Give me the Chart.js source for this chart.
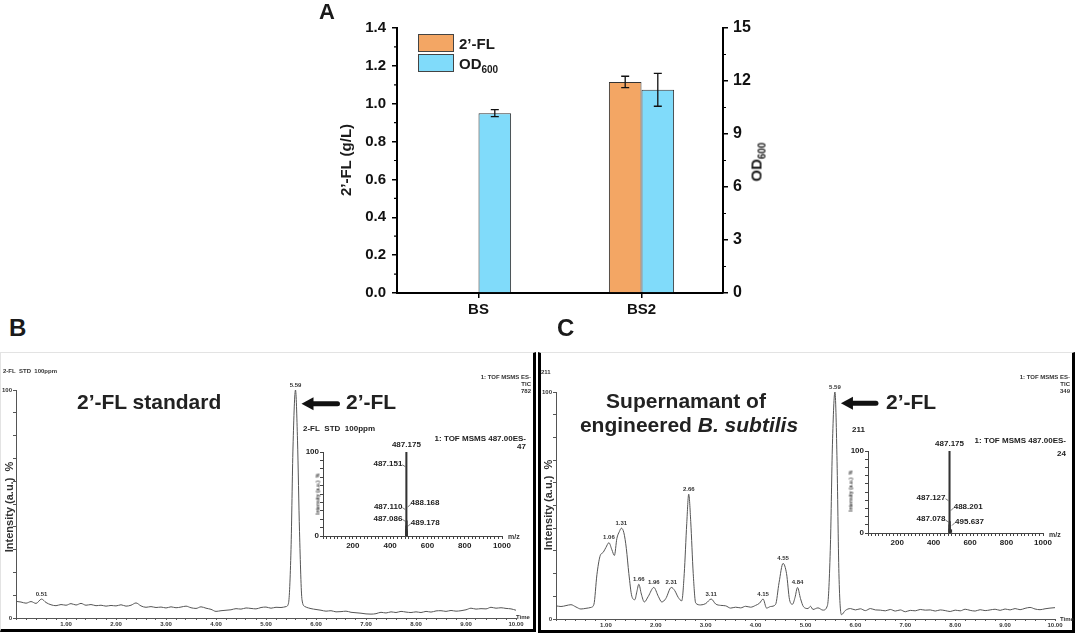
<!DOCTYPE html>
<html>
<head>
<meta charset="utf-8">
<script src="https://cdn.jsdelivr.net/npm/chart.js@4.4.1/dist/chart.umd.min.js"></script>
<style>
  body { margin: 0; width: 1080px; height: 640px; position: relative; overflow: hidden; background: #fff;
         font-family: 'Liberation Sans', Arial, sans-serif; color: #1a1a1a; }
  canvas { position: absolute; }
  .t { position: absolute; white-space: nowrap; line-height: 1; }
  .big { font-weight: bold; font-size: 21px; color: #222; }
  .tiny { font-size: 6px; font-weight: bold; color: #333; }
  .small { font-size: 8px; font-weight: bold; color: #222; }
  .rot { transform: translate(-50%, -50%) rotate(-90deg); }
  .frame { position: absolute; box-sizing: border-box; }
</style>
</head>
<body>

<div class="frame" style="left:0;top:352px;width:536px;height:280px;border-left:1px solid #e3e3e3;border-top:1px solid #e3e3e3;border-right:3px solid #000;border-bottom:3px solid #000;"></div>
<div class="frame" style="left:538px;top:352px;width:537px;height:281px;border-left:3px solid #000;border-top:1px solid #e3e3e3;border-right:3px solid #000;border-bottom:3px solid #000;"></div>

<canvas id="chartA" width="480" height="330" style="left:300px;top:0;"></canvas>
<canvas id="chartB" width="532" height="276" style="left:1px;top:353px;"></canvas>
<canvas id="chartC" width="530" height="276" style="left:541px;top:353px;"></canvas>
<canvas id="insetB" width="240" height="135" style="left:290px;top:420px;"></canvas>
<canvas id="insetC" width="235" height="135" style="left:835px;top:420px;"></canvas>

<!-- panel letters -->
<div class="t" style="left:319px;top:1px;font-size:22px;font-weight:bold;">A</div>
<div class="t" style="left:9px;top:316px;font-size:24px;font-weight:bold;">B</div>
<div class="t" style="left:557px;top:316px;font-size:24px;font-weight:bold;">C</div>

<!-- panel A titles and legend -->
<div class="t rot" style="left:345px;top:160px;font-size:15px;font-weight:bold;">2’-FL (g/L)</div>
<div class="t rot" style="left:758px;top:162px;font-size:15px;font-weight:bold;">OD<sub style="font-size:10px;">600</sub></div>
<div id="legendA"></div>

<!-- panel B texts -->
<div class="t tiny" style="left:3px;top:368px;">2-FL&nbsp; STD&nbsp; 100ppm</div>
<div class="t tiny" style="right:549px;top:374px;text-align:right;line-height:7px;">1: TOF MSMS ES-<br>TIC<br>782</div>
<div class="t rot" style="left:9px;top:507px;font-size:11px;font-weight:bold;color:#333;">Intensity (a.u.)&nbsp;&nbsp;%</div>
<div class="t big" style="left:77px;top:391px;">2’-FL standard</div>
<div class="t big" style="left:346px;top:391px;">2’-FL</div>
<div class="t tiny" style="left:516px;top:614px;">Time</div>
<div class="t small" style="left:303px;top:425px;">2-FL&nbsp; STD&nbsp; 100ppm</div>
<div class="t small" style="right:554px;top:435px;text-align:right;line-height:8px;">1: TOF MSMS 487.00ES-<br>47</div>
<div class="t rot" style="left:318px;top:494px;font-size:5px;font-weight:bold;color:#333;">Intensity (a.u.)&nbsp; %</div>
<div class="t tiny" style="left:508px;top:533px;font-size:7px;">m/z</div>

<!-- panel C texts -->
<div class="t tiny" style="left:541px;top:369px;">211</div>
<div class="t tiny" style="right:10px;top:374px;text-align:right;line-height:7px;">1: TOF MSMS ES-<br>TIC<br>349</div>
<div class="t rot" style="left:548px;top:505px;font-size:11px;font-weight:bold;color:#333;">Intensity (a.u.)&nbsp;&nbsp;%</div>
<div class="t big" style="left:686px;top:390px;transform:translateX(-50%);">Supernamant of</div>
<div class="t big" style="left:689px;top:414px;transform:translateX(-50%);">engineered <i>B. subtilis</i></div>
<div class="t big" style="left:886px;top:391px;">2’-FL</div>
<div class="t tiny" style="left:1060px;top:616px;">Time</div>
<div class="t small" style="left:852px;top:426px;">211</div>
<div class="t small" style="right:14px;top:434px;text-align:right;line-height:13px;">1: TOF MSMS 487.00ES-<br>24</div>
<div class="t rot" style="left:851px;top:491px;font-size:5px;font-weight:bold;color:#333;">Intensity (a.u.)&nbsp; %</div>
<div class="t tiny" style="left:1049px;top:531px;font-size:7px;">m/z</div>

<script>
// ---- panel A data ----
const categoriesA = ['BS', 'BS2'];
const flValues = [0, 1.115];
const flErrors = [0, 0.03];
const odValues = [10.18, 11.5];
const odErrors = [0.2, 0.93];

// ---- panel B chromatogram (time, min / relative intensity, %) ----
const timesB = [0.00,0.10,0.20,0.30,0.40,0.51,0.60,0.70,0.80,0.90,1.00,1.10,1.20,1.30,1.40,1.50,1.60,1.70,1.80,1.90,
  2.00,2.10,2.20,2.30,2.40,2.50,2.60,2.70,2.80,2.90,3.00,3.10,3.20,3.30,3.40,3.50,3.60,3.70,3.80,3.90,
  4.00,4.10,4.20,4.30,4.40,4.50,4.60,4.70,4.80,4.90,5.00,5.10,5.20,5.30,5.40,5.45,5.50,5.54,5.59,5.63,
  5.67,5.72,5.78,5.85,5.95,6.10,6.20,6.30,6.40,6.50,6.60,6.70,6.80,6.90,7.00,7.10,7.20,7.30,7.40,7.50,
  7.60,7.70,7.80,7.90,8.00,8.10,8.20,8.30,8.40,8.50,8.60,8.70,8.80,8.90,9.00,9.10,9.20,9.30,9.40,9.50,
  9.60,9.70,9.80,9.90,10.00];
const intensityB = [7.3,7.0,6.5,7.2,6.4,8.3,6.8,5.8,5.4,5.9,5.6,6.3,5.7,6.4,5.6,5.9,5.4,5.6,5.2,5.5,
  5.3,5.8,5.2,5.6,6.6,5.3,4.7,5.0,4.6,4.8,4.4,4.9,4.5,4.8,5.2,4.5,4.2,4.9,4.3,3.8,
  2.9,3.2,3.4,3.6,4.1,3.9,4.4,4.2,4.0,4.6,4.8,4.3,4.7,4.6,5.0,6.5,30,75,100,78,
  38,8,5.0,4.4,3.9,3.4,3.0,3.2,2.7,2.8,3.0,2.5,2.3,2.1,1.8,1.7,1.9,2.5,2.2,2.7,
  2.4,2.9,2.6,2.4,2.7,2.4,2.9,2.6,3.1,3.2,2.9,3.3,3.0,3.2,3.6,4.3,3.9,4.1,4.0,4.7,
  4.3,4.5,4.2,4.0,3.4];
const peaksB = [0.51, 5.59];

// ---- panel C chromatogram ----
const timesC = [0.00,0.10,0.20,0.30,0.40,0.50,0.60,0.70,0.76,0.82,0.88,0.95,1.00,1.06,1.12,1.17,1.22,1.27,1.31,1.36,
  1.41,1.46,1.52,1.58,1.62,1.66,1.71,1.77,1.85,1.96,2.05,2.12,2.20,2.31,2.38,2.45,2.52,2.57,2.62,2.66,
  2.70,2.75,2.80,2.90,3.00,3.11,3.20,3.30,3.40,3.50,3.60,3.70,3.80,3.90,4.00,4.08,4.15,4.22,4.30,4.40,
  4.47,4.55,4.62,4.68,4.74,4.79,4.84,4.90,4.96,5.05,5.10,5.15,5.25,5.35,5.44,5.50,5.54,5.59,5.63,5.67,
  5.72,5.80,5.90,6.00,6.10,6.20,6.30,6.40,6.50,6.60,6.70,6.80,6.90,7.00,7.10,7.20,7.30,7.40,7.50,7.60,
  7.70,7.80,7.90,8.00,8.10,8.20,8.30,8.40,8.50,8.60,8.70,8.80,8.90,9.00,9.10,9.20,9.30,9.40,9.50,9.60,
  9.70,9.80,9.90,10.00];
const intensityC = [5.8,5.5,5.9,6.3,5.3,4.4,4.7,5.1,6.5,19.5,27.5,29.5,31.5,33.6,30.5,28.0,35.5,38.5,40.0,38.0,
  31.0,20.0,10.0,8.5,12.0,15.3,11.0,7.5,10.0,13.9,10.0,7.5,9.0,13.9,12.5,9.5,8.0,20.0,42.0,55.0,
  43.0,20.0,7.0,6.2,6.8,8.8,6.6,6.0,5.8,4.8,5.2,4.9,5.6,5.2,6.0,7.0,8.8,4.8,5.5,6.4,
  16.0,24.5,20.0,8.5,6.5,9.5,13.9,9.0,5.4,4.6,5.6,4.2,4.9,3.9,6.0,33.0,77.0,100,72.0,20.0,
  1.9,3.8,4.6,4.0,4.5,3.7,4.6,4.0,3.9,3.6,4.2,3.5,4.0,3.2,3.8,3.6,4.2,3.9,4.0,3.5,
  4.0,3.7,3.3,3.9,3.6,4.3,3.8,3.5,4.1,3.7,4.0,4.3,3.8,4.4,4.0,4.6,4.1,4.7,5.1,4.4,
  4.1,4.5,4.8,5.0];
const peaksC = [1.06, 1.31, 1.66, 1.96, 2.31, 2.66, 3.11, 4.15, 4.55, 4.84, 5.59];

// ---- MS/MS insets (m/z, relative intensity %) ----
const mzB = [487.086, 487.110, 487.151, 487.175, 488.168, 489.178];
const relB = [5, 8, 12, 100, 18, 6];
const mzC = [487.078, 487.127, 487.175, 488.201, 495.637];
const relC = [5, 10, 100, 14, 4];

const FONT = "'Liberation Sans', Arial, sans-serif";
Chart.defaults.font.family = FONT;
Chart.defaults.animation = false;

// error bars drawn from the dataset's own y scale
const errorBars = {
  id: 'errorBars',
  afterDatasetsDraw(chart) {
    const ctx = chart.ctx;
    chart.data.datasets.forEach((ds, di) => {
      const meta = chart.getDatasetMeta(di);
      const scale = chart.scales[ds.yAxisID];
      meta.data.forEach((bar, i) => {
        const e = ds.errors[i];
        if (!e) return;
        const v = ds.data[i];
        const top = scale.getPixelForValue(v + e);
        const bot = scale.getPixelForValue(v - e);
        ctx.save();
        ctx.strokeStyle = '#111';
        ctx.lineWidth = 1.3;
        ctx.beginPath();
        ctx.moveTo(bar.x, top); ctx.lineTo(bar.x, bot);
        ctx.moveTo(bar.x - 4, top); ctx.lineTo(bar.x + 4, top);
        ctx.moveTo(bar.x - 4, bot); ctx.lineTo(bar.x + 4, bot);
        ctx.stroke();
        ctx.restore();
      });
    });
  }
};

// minor ticks between the major ones
const minorTicks = {
  id: 'minorTicks',
  afterDraw(chart, args, opts) {
    const ctx = chart.ctx;
    (opts.axes || []).forEach(a => {
      const s = chart.scales[a.id];
      const n = Math.round((s.max - s.min) / a.step);
      ctx.save();
      ctx.strokeStyle = '#000';
      ctx.lineWidth = 1.2;
      ctx.beginPath();
      for (let k = 1; k < n; k += 2) {
        const y = s.getPixelForValue(s.min + k * a.step);
        const x = a.side === 'left' ? s.right : s.left;
        ctx.moveTo(x, y);
        ctx.lineTo(a.side === 'left' ? x - 3 : x + 3, y);
      }
      ctx.stroke();
      ctx.restore();
    });
  }
};

// peak labels and arrow on the chromatograms
const chromAnnot = {
  id: 'chromAnnot',
  afterDatasetsDraw(chart, args, opts) {
    const ctx = chart.ctx, xs = chart.scales.x, ys = chart.scales.y;
    const pts = chart.data.datasets[0].data;
    ctx.save();
    ctx.fillStyle = '#333';
    ctx.font = 'bold 6px ' + FONT;
    ctx.textAlign = 'center';
    ctx.textBaseline = 'bottom';
    opts.peaks.forEach(t => {
      const p = pts.find(d => d.x === t);
      ctx.fillText(t.toFixed(2), xs.getPixelForValue(t), ys.getPixelForValue(p.y) - 2);
    });
    const a = opts.arrow;
    const tx = xs.getPixelForValue(a.x) + 6, ty = ys.getPixelForValue(a.y);
    ctx.fillStyle = '#111';
    ctx.beginPath();
    ctx.moveTo(tx, ty); ctx.lineTo(tx + 12, ty - 6.5); ctx.lineTo(tx + 12, ty + 6.5);
    ctx.closePath();
    ctx.fill();
    ctx.strokeStyle = '#111';
    ctx.lineWidth = 5;
    ctx.lineCap = 'round';
    ctx.beginPath();
    ctx.moveTo(tx + 10, ty); ctx.lineTo(tx + a.len, ty);
    ctx.stroke();
    ctx.restore();
  }
};

// m/z labels with small leader lines
const specAnnot = {
  id: 'specAnnot',
  afterDatasetsDraw(chart, args, opts) {
    const ctx = chart.ctx, xs = chart.scales.x, ys = chart.scales.y;
    ctx.save();
    ctx.font = 'bold 8px ' + FONT;
    ctx.fillStyle = '#222';
    ctx.strokeStyle = '#555';
    ctx.lineWidth = 0.8;
    opts.labels.forEach(l => {
      const x = xs.getPixelForValue(l.mz), y = ys.getPixelForValue(l.at);
      const text = l.mz.toFixed(3);
      ctx.textBaseline = 'middle';
      if (l.side === 'top') {
        ctx.textAlign = 'center';
        ctx.fillText(text, x, y - 7);
      } else if (l.side === 'left') {
        ctx.textAlign = 'right';
        ctx.fillText(text, x - 4, y);
        ctx.beginPath(); ctx.moveTo(x - 4, y + 1); ctx.lineTo(x - 1, y + 3); ctx.stroke();
      } else {
        ctx.textAlign = 'left';
        ctx.fillText(text, x + 4, y);
        ctx.beginPath(); ctx.moveTo(x + 1, y + 4); ctx.lineTo(x + 4, y + 1); ctx.stroke();
      }
    });
    ctx.restore();
  }
};

// ---------- panel A ----------
const orange = '#F3A664', blue = '#80DBFA';
const chartA = new Chart(document.getElementById('chartA'), {
  type: 'bar',
  data: {
    labels: categoriesA,
    datasets: [
      { label: '2’-FL', data: flValues, errors: flErrors, yAxisID: 'y', backgroundColor: orange,
        borderColor: '#333', borderWidth: c => (c.raw ? 1 : 0), categoryPercentage: 0.4, barPercentage: 1.0 },
      { label: 'OD600', data: odValues, errors: odErrors, yAxisID: 'y1', backgroundColor: blue,
        borderColor: '#333', borderWidth: 1, categoryPercentage: 0.4, barPercentage: 1.0 }
    ]
  },
  options: {
    responsive: false,
    layout: { padding: { top: 28, left: 0, right: 0, bottom: 0 } },
    plugins: {
      legend: { display: false },
      tooltip: { enabled: false },
      minorTicks: { axes: [{ id: 'y', step: 0.1, side: 'left' }, { id: 'y1', step: 1.5, side: 'right' }] }
    },
    scales: {
      x: {
        afterFit: s => { s.height = 37; },
        grid: { display: true, drawOnChartArea: false, offset: false, tickLength: 5, color: '#000', lineWidth: 1.5 },
        border: { display: true, color: '#000', width: 2 },
        ticks: { color: '#111', font: { size: 15, weight: 'bold' }, padding: 3 }
      },
      y: {
        position: 'left', min: 0, max: 1.4,
        afterFit: s => { s.width = 97; },
        grid: { display: true, drawOnChartArea: false, tickLength: 5, color: '#000', lineWidth: 1.5 },
        border: { display: true, color: '#000', width: 2 },
        ticks: { stepSize: 0.2, callback: v => v.toFixed(1), color: '#111', font: { size: 15, weight: 'bold' }, padding: 6 }
      },
      y1: {
        position: 'right', min: 0, max: 15,
        afterFit: s => { s.width = 57; },
        grid: { display: true, drawOnChartArea: false, tickLength: 5, color: '#000', lineWidth: 1.5 },
        border: { display: true, color: '#000', width: 2 },
        ticks: { stepSize: 3, color: '#111', font: { size: 16, weight: 'bold' }, padding: 5 }
      }
    }
  },
  plugins: [errorBars, minorTicks]
});

// HTML legend built from the datasets
const legendA = document.getElementById('legendA');
chartA.data.datasets.forEach((ds, i) => {
  const top = 34 + i * 20;
  const box = document.createElement('div');
  box.style.cssText = `position:absolute;left:418px;top:${top}px;width:36px;height:18px;box-sizing:border-box;` +
    `background:${ds.backgroundColor};border:1px solid #444;`;
  legendA.appendChild(box);
  const txt = document.createElement('div');
  txt.className = 't';
  txt.style.cssText = `left:459px;top:${top + 2}px;font-size:15px;font-weight:bold;`;
  txt.innerHTML = i === 0 ? ds.label : 'OD<sub style="font-size:10px;">600</sub>';
  legendA.appendChild(txt);
});

// ---------- chromatograms ----------
function chromatogram(id, times, values, peaks, arrow, box) {
  return new Chart(document.getElementById(id), {
    type: 'line',
    data: {
      datasets: [{
        data: times.map((t, i) => ({ x: t, y: values[i] })),
        borderColor: '#555', borderWidth: 1, pointRadius: 0,
        cubicInterpolationMode: 'monotone', clip: false
      }]
    },
    options: {
      responsive: false,
      layout: { padding: { top: box.top, right: box.right, left: 0, bottom: 0 } },
      plugins: { legend: { display: false }, tooltip: { enabled: false }, chromAnnot: { peaks, arrow } },
      scales: {
        x: {
          type: 'linear', min: 0, max: 10,
          afterFit: s => { s.height = box.bottom; },
          grid: { drawOnChartArea: false, tickLength: 2, color: '#555' },
          border: { color: '#555', width: 1 },
          ticks: { stepSize: 0.2, autoSkip: false, maxRotation: 0, padding: 1, color: '#333',
                   font: { size: 6, weight: 'bold' },
                   callback: v => (v > 0.5 && Math.abs(v - Math.round(v)) < 1e-6 ? v.toFixed(2) : '') }
        },
        y: {
          min: 0, max: 100,
          afterFit: s => { s.width = box.left; },
          grid: { drawOnChartArea: false, tickLength: 3, color: '#555' },
          border: { color: '#555', width: 1 },
          ticks: { stepSize: 10, autoSkip: false, padding: 1, color: '#333', font: { size: 6, weight: 'bold' },
                   callback: v => (v === 0 || v === 100 ? String(v) : '') }
        }
      }
    },
    plugins: [chromAnnot]
  });
}

chromatogram('chartB', timesB, intensityB, peaksB, { x: 5.59, y: 94, len: 36 },
  { left: 15, top: 37, right: 17, bottom: 11 });
chromatogram('chartC', timesC, intensityC, peaksC, { x: 5.59, y: 95, len: 35 },
  { left: 15, top: 39, right: 16, bottom: 10 });

// ---------- MS/MS insets ----------
function spectrum(id, mz, rel, labels, box) {
  return new Chart(document.getElementById(id), {
    type: 'bar',
    data: {
      datasets: [{
        data: mz.map((m, i) => ({ x: m, y: rel[i] })),
        backgroundColor: '#333', barThickness: 1.4, grouped: false
      }]
    },
    options: {
      responsive: false,
      layout: { padding: { top: box.top, right: box.right, left: 0, bottom: 0 } },
      plugins: { legend: { display: false }, tooltip: { enabled: false }, specAnnot: { labels } },
      scales: {
        x: {
          type: 'linear', min: 40, max: 1000, offset: false,
          afterFit: s => { s.height = box.bottom; },
          grid: { drawOnChartArea: false, offset: false, tickLength: 3, color: '#444' },
          border: { color: '#444', width: 1 },
          ticks: { stepSize: 20, autoSkip: false, maxRotation: 0, padding: 2, color: '#222',
                   font: { size: 8, weight: 'bold' },
                   callback: v => (v % 200 === 0 ? String(v) : '') }
        },
        y: {
          min: 0, max: 100,
          afterFit: s => { s.width = box.left; },
          grid: { drawOnChartArea: false, tickLength: 3, color: '#444' },
          border: { color: '#444', width: 1 },
          ticks: { stepSize: 10, autoSkip: false, padding: 1, color: '#222', font: { size: 8, weight: 'bold' },
                   callback: v => (v === 0 || v === 100 ? String(v) : '') }
        }
      }
    },
    plugins: [specAnnot]
  });
}

spectrum('insetB', mzB, relB, [
  { mz: 487.175, at: 100, side: 'top' },
  { mz: 487.151, at: 86, side: 'left' },
  { mz: 487.110, at: 35, side: 'left' },
  { mz: 488.168, at: 39, side: 'right' },
  { mz: 487.086, at: 21, side: 'left' },
  { mz: 489.178, at: 16, side: 'right' }
], { left: 33, top: 32, right: 28, bottom: 19 });

spectrum('insetC', mzC, relC, [
  { mz: 487.175, at: 100, side: 'top' },
  { mz: 487.127, at: 43, side: 'left' },
  { mz: 488.201, at: 32, side: 'right' },
  { mz: 487.078, at: 17, side: 'left' },
  { mz: 495.637, at: 14, side: 'right' }
], { left: 33, top: 31, right: 27, bottom: 22 });
</script>
</body>
</html>
